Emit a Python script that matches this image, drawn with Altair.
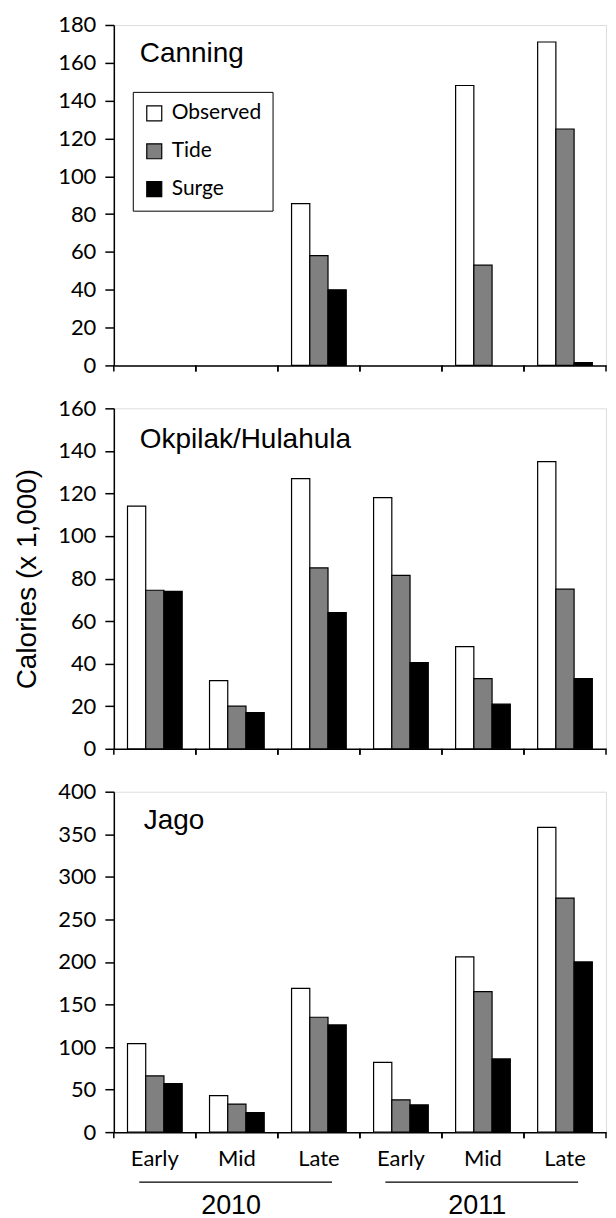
import altair as alt
import pandas as pd

# ---- data ----
periods = ["Early", "Mid", "Late", "Early", "Mid", "Late"]
years = ["2010", "2010", "2010", "2011", "2011", "2011"]
series = ["Observed", "Tide", "Surge"]
series_colors = ["#ffffff", "#808080", "#000000"]

canning_observed = [None, None, 85.5, None, 148, 171]
canning_tide = [None, None, 58, None, 53, 125]
canning_surge = [None, None, 40, None, None, 1.5]

okpilak_observed = [114, 32, 127, 118, 48, 135]
okpilak_tide = [74.5, 20, 85, 81.5, 33, 75]
okpilak_surge = [74, 17, 64, 40.5, 21, 33]

jago_observed = [104, 43, 169, 82, 206, 358]
jago_tide = [66, 33, 135, 38, 165, 275]
jago_surge = [57, 23, 126, 32, 86, 200]

year_labels = ["2010", "2011"]

categories = [f"{y} {p}" for y, p in zip(years, periods)]

W, H = 493, 341
TICK_FONT = "Lato"
TEXT_FONT = "Liberation Sans"


def panel_df(obs, tide, surge):
    rows = []
    for s, vals in zip(series, [obs, tide, surge]):
        for c, v in zip(categories, vals):
            if v is not None:
                rows.append({"cat": c, "series": s, "value": v})
    return pd.DataFrame(rows)


def make_panel(name, df, ymax, ystep, title_x, title_y,
               show_legend=False, show_x_labels=False, y_title=None,
               show_years=False):
    x_axis = alt.Axis(
        domain=True, domainColor="black", domainWidth=1.5,
        ticks=False, tickSize=0, labels=show_x_labels,
        labelExpr="split(datum.value, ' ')[1]",
        labelFont=TICK_FONT, labelFontSize=22, labelColor="black",
        labelPadding=16, labelAngle=0, grid=False, title=None,
    )
    x_scale = alt.Scale(domain=categories, paddingInner=0, paddingOuter=0)

    y_axis_kwargs = dict(
        values=list(range(0, ymax + 1, ystep)),
        domainColor="black", domainWidth=1.5,
        tickColor="black", tickWidth=1.5, tickSize=9,
        labelPadding=9, labelFont=TICK_FONT, labelFontSize=22,
        labelColor="black", grid=False,
    )
    if y_title:
        y_axis_kwargs.update(
            title=y_title, titleFont=TEXT_FONT, titleFontSize=28,
            titleFontWeight="normal", titleColor="black", titlePadding=16,
        )
    else:
        y_axis_kwargs.update(title=None)

    if show_legend:
        legend = alt.Legend(
            title=None, orient="none", legendX=19, legendY=67,
            symbolType="square", symbolSize=225,
            symbolStrokeColor="black", symbolStrokeWidth=1.2,
            labelFont=TICK_FONT, labelFontSize=21, labelColor="black",
            labelOffset=7, rowPadding=16, padding=11,
            strokeColor="black", fillColor="white",
        )
    else:
        legend = None

    bars = alt.Chart(df).mark_bar(stroke="black", strokeWidth=1.2).encode(
        x=alt.X("cat:N", scale=x_scale, axis=x_axis, title=None),
        xOffset=alt.XOffset(
            "series:N",
            scale=alt.Scale(domain=series, paddingInner=0, paddingOuter=0.75),
        ),
        y=alt.Y("value:Q", scale=alt.Scale(domain=[0, ymax], nice=False),
                axis=alt.Axis(**y_axis_kwargs)),
        color=alt.Color("series:N",
                        scale=alt.Scale(domain=series, range=series_colors),
                        legend=legend),
    )

    cat_df = pd.DataFrame({"cat": categories})
    ticks_start = alt.Chart(cat_df).mark_rule(color="black", strokeWidth=1.5).encode(
        x=alt.X("cat:N", scale=x_scale, axis=x_axis, title=None, bandPosition=0),
        y=alt.value(H), y2=alt.value(H + 6),
    )
    ticks_end = alt.Chart(cat_df).mark_rule(color="black", strokeWidth=1.5).encode(
        x=alt.X("cat:N", scale=x_scale, axis=x_axis, title=None, bandPosition=1),
        y=alt.value(H), y2=alt.value(H + 6),
    )

    label = alt.Chart(pd.DataFrame({"label": [name]})).mark_text(
        align="left", baseline="alphabetic", font=TEXT_FONT, fontSize=28,
        color="black",
    ).encode(x=alt.value(title_x), y=alt.value(title_y), text="label:N")

    layers = [bars, ticks_start, ticks_end, label]

    if show_years:
        yr_df = pd.DataFrame({
            "year": year_labels,
            "start": [c for c in categories if c.endswith("Early")],
            "mid": [c for c in categories if c.endswith("Mid")],
            "end": [c for c in categories if c.endswith("Late")],
        })
        lines = alt.Chart(yr_df).mark_rule(color="black", strokeWidth=1.3).encode(
            x=alt.X("start:N", scale=x_scale, axis=x_axis, title=None,
                    bandPosition=0.31),
            x2=alt.X2("end:N", bandPosition=0.66),
            y=alt.value(H + 50),
        )
        texts = alt.Chart(yr_df).mark_text(
            align="center", baseline="alphabetic", font=TEXT_FONT,
            fontSize=27, color="black",
        ).encode(
            x=alt.X("mid:N", scale=x_scale, axis=x_axis, title=None,
                    bandPosition=0.43),
            y=alt.value(H + 82),
            text="year:N",
        )
        layers += [lines, texts]

    return alt.layer(*layers).properties(width=W, height=H)


p1 = make_panel("Canning", panel_df(canning_observed, canning_tide, canning_surge),
                180, 20, 26, 37, show_legend=True)
p2 = make_panel("Okpilak/Hulahula",
                panel_df(okpilak_observed, okpilak_tide, okpilak_surge),
                160, 20, 26, 40, y_title="Calories (x 1,000)")
p3 = make_panel("Jago", panel_df(jago_observed, jago_tide, jago_surge),
                400, 50, 30, 37, show_x_labels=True, show_years=True)

chart = alt.vconcat(p1, p2, p3, spacing=43, bounds="flush").resolve_legend(
    color="independent"
).properties(
    padding={"left": 5, "top": 4, "right": 0, "bottom": 0}
).configure_view(stroke=None).configure(font=TEXT_FONT)

chart.save("out.html", embed_options={"renderer": "svg", "actions": False})
